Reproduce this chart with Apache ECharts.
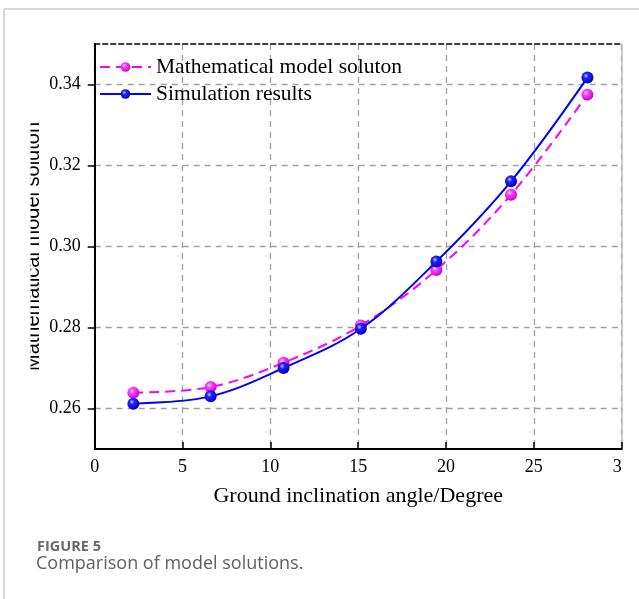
<!DOCTYPE html>
<html>
<head>
<meta charset="utf-8">
<script src="https://cdn.jsdelivr.net/npm/echarts@6/dist/echarts.min.js"></script>
<style>
  html, body { margin: 0; padding: 0; background: #fff; }
  #chart { width: 639px; height: 599px; }
</style>
</head>
<body>
<div id="chart"></div>
<script>
// Ground inclination angle (degrees) at which both solutions were evaluated
const angles = [2.2, 6.6, 10.75, 15.15, 19.45, 23.7, 28.05];
// Mathematical model solution
const modelValues = [0.2639, 0.2653, 0.2713, 0.2805, 0.2942, 0.3128, 0.3375];
// Simulation results
const simValues = [0.2612, 0.2630, 0.2700, 0.2797, 0.2963, 0.3161, 0.3417];
// Axis tick labels
const xTicks = [0, 5, 10, 15, 20, 25, 30];
const yTicks = [0.26, 0.28, 0.30, 0.32, 0.34];

const seriesNames = ['Mathematical model soluton', 'Simulation results'];
const xName = 'Ground inclination angle/Degree';
const yName = 'Mathematical model soluton';
const captionLabel = 'FIGURE 5';
const captionText = 'Comparison of model solutions.';

const serif = '"Liberation Serif", "Times New Roman", serif';
const captionFont = '"Open Sans", "Noto Sans", sans-serif';

function ball(light, mid, dark) {
  return {
    type: 'radial', x: 0.38, y: 0.35, r: 0.7,
    colorStops: [
      { offset: 0, color: light },
      { offset: 0.3, color: mid },
      { offset: 1, color: dark }
    ]
  };
}

const gridDash = { color: '#a0a0a0', width: 1.3, type: [6, 5] };

const chart = echarts.init(document.getElementById('chart'), null, { renderer: 'canvas' });

chart.setOption({
  animation: false,
  backgroundColor: '#fff',
  grid: { left: 94.7, right: 17.3, top: 44, bottom: 150, containLabel: false },
  legend: {
    orient: 'vertical',
    left: 99,
    top: 56,
    padding: 0,
    itemWidth: 51,
    itemHeight: 12,
    itemGap: 5,
    textStyle: { fontFamily: serif, fontSize: 21.5, color: '#000', lineHeight: 22 },
    data: seriesNames
  },
  xAxis: [
    {
      type: 'value', min: 0, max: 30, interval: 5,
      name: xName, nameLocation: 'middle', nameGap: 36,
      nameTextStyle: { fontFamily: serif, fontSize: 22, color: '#000' },
      axisLine: { show: true, onZero: false, lineStyle: { color: '#000', width: 2 } },
      axisTick: { show: true, inside: true, length: 7, lineStyle: { color: '#000', width: 1.5 } },
      axisLabel: {
        margin: 9, fontFamily: serif, fontSize: 18, color: '#000',
        customValues: xTicks
      },
      splitLine: { show: true, lineStyle: gridDash }
    },
    {
      type: 'value', min: 0, max: 30, position: 'top',
      axisLine: { show: true, onZero: false, lineStyle: { color: '#000', width: 1.5, type: [5, 3] } },
      axisTick: { show: false }, axisLabel: { show: false }, splitLine: { show: false }
    }
  ],
  yAxis: [
    {
      type: 'value', min: 0.25, max: 0.35, splitNumber: 5,
      name: yName, nameLocation: 'middle', nameGap: 51.5, nameMoveOverlap: false,
      nameTextStyle: { fontFamily: '"Liberation Sans", Arial, sans-serif', fontSize: 20, color: '#000' },
      axisLine: { show: true, onZero: false, lineStyle: { color: '#000', width: 2 } },
      axisTick: { show: true, inside: false, length: 7, customValues: yTicks, lineStyle: { color: '#000', width: 1.5 } },
      axisLabel: {
        margin: 14, fontFamily: serif, fontSize: 18, color: '#000',
        customValues: yTicks,
        formatter: v => v.toFixed(2)
      },
      splitLine: { show: true, lineStyle: gridDash }
    },
    {
      type: 'value', min: 0.25, max: 0.35, position: 'right',
      axisLine: { show: true, onZero: false, lineStyle: { color: '#bdbdbd', width: 1.5 } },
      axisTick: { show: false }, axisLabel: { show: false }, splitLine: { show: false }
    }
  ],
  series: [
    {
      name: seriesNames[0],
      type: 'line',
      smooth: 0.35,
      data: angles.map((a, i) => [a, modelValues[i]]),
      symbol: 'circle',
      symbolSize: 12,
      lineStyle: { color: '#ff00ff', width: 2, type: [10, 6] },
      itemStyle: { color: ball('#ffd6ff', '#ff40ff', '#c000c0') },
      z: 3
    },
    {
      name: seriesNames[1],
      type: 'line',
      smooth: 0.35,
      data: angles.map((a, i) => [a, simValues[i]]),
      symbol: 'circle',
      symbolSize: 12,
      lineStyle: { color: '#0000ff', width: 2 },
      itemStyle: { color: ball('#c8c8ff', '#2020ff', '#0000a8') },
      z: 4
    }
  ],
  graphic: [
    // page frame
    { type: 'line', shape: { x1: 4, y1: 9, x2: 639, y2: 9 }, style: { stroke: '#cbcbcb', lineWidth: 1.5 }, z: 100 },
    { type: 'line', shape: { x1: 4, y1: 9, x2: 4, y2: 599 }, style: { stroke: '#cbcbcb', lineWidth: 1.5 }, z: 100 },
    // figure edge: trims the plot image on the left and right
    { type: 'rect', shape: { x: 5.5, y: 60, width: 25, height: 350 }, style: { fill: '#fff' }, z: 90 },
    { type: 'rect', shape: { x: 622, y: 451, width: 17, height: 40 }, style: { fill: '#fff' }, z: 90 },
    // caption
    {
      type: 'text', left: 37, top: 539, z: 100,
      style: { text: captionLabel, fontFamily: captionFont, fontSize: 14.5, fontWeight: 'bold', fill: '#6a6a6a' }
    },
    {
      type: 'text', left: 36, top: 555, z: 100,
      style: { text: captionText, fontFamily: captionFont, fontSize: 18, fill: '#5e5e5e' }
    }
  ]
});
</script>
</body>
</html>
